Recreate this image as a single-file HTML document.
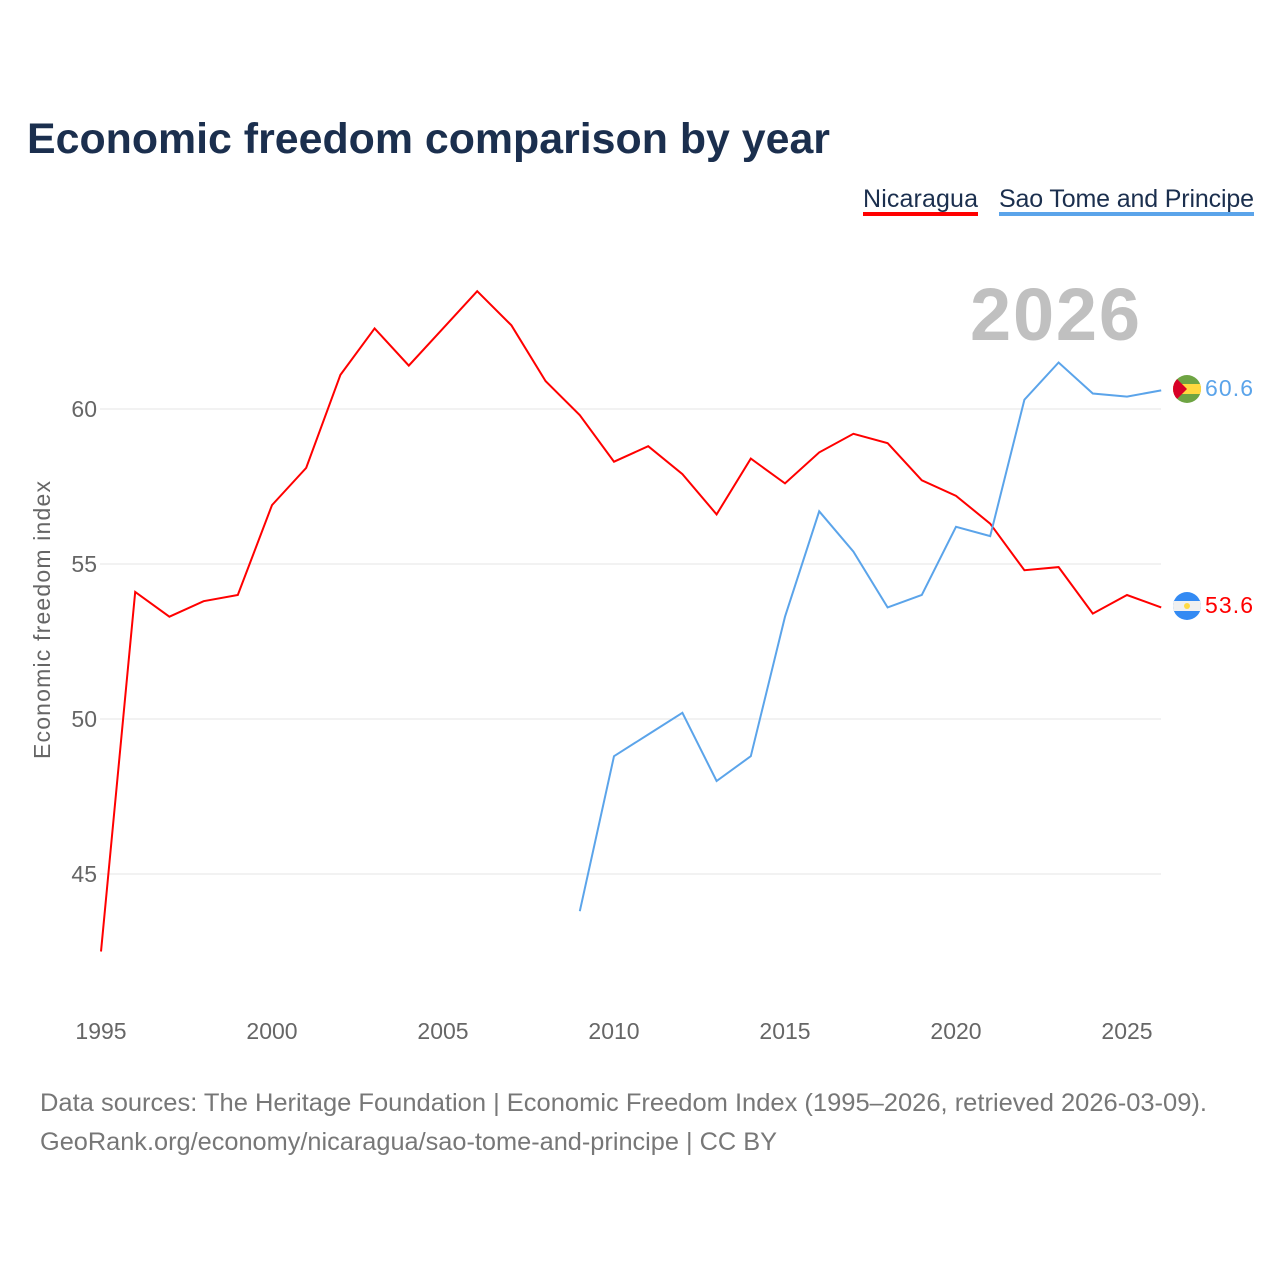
<!DOCTYPE html>
<html><head><meta charset="utf-8"><style>
body{margin:0;background:#fff;font-family:"Liberation Sans",sans-serif;}
</style></head><body>
<svg id="chart" width="1280" height="1280" xmlns="http://www.w3.org/2000/svg">
<text x="27" y="153" font-size="43" font-weight="bold" fill="#1b2f4e" textLength="803" lengthAdjust="spacingAndGlyphs">Economic freedom comparison by year</text>
<g><text x="863" y="207" font-size="25" fill="#1b2f4e" textLength="115">Nicaragua</text><rect x="863" y="212" width="115" height="4" fill="#ff0000"/></g>
<g><text x="999" y="207" font-size="25" fill="#1b2f4e" textLength="255">Sao Tome and Principe</text><rect x="999" y="212" width="255" height="4" fill="#5ba4ea"/></g>
<text x="1140" y="340" text-anchor="end" font-size="74" font-weight="bold" fill="#c0c0c0" textLength="170">2026</text>
<text transform="translate(50,620) rotate(-90)" text-anchor="middle" font-size="23" fill="#666" textLength="278">Economic freedom index</text>
<g id="grid"></g><g id="lines"></g>
<g>
<clipPath id="c1"><circle cx="1187" cy="389" r="14"/></clipPath>
<g clip-path="url(#c1)"><rect x="1173" y="375" width="28" height="28" fill="#6ea443"/><rect x="1173" y="384" width="28" height="10" fill="#ffd83f"/><polygon points="1173,375 1187,389 1173,403" fill="#d80027"/></g></g>
<g>
<clipPath id="c2"><circle cx="1187" cy="606" r="14"/></clipPath>
<g clip-path="url(#c2)"><rect x="1173" y="592" width="28" height="28" fill="#338af3"/><rect x="1173" y="601" width="28" height="10" fill="#f0f0f0"/><circle cx="1187" cy="606" r="3" fill="#ffda44"/></g></g>
<text x="1205" y="396" font-size="23" fill="#5ba4ea" textLength="48">60.6</text>
<text x="1205" y="613" font-size="23" fill="#ff0000" textLength="48">53.6</text>
<text x="40" y="1111" font-size="25" fill="#777" textLength="1167" lengthAdjust="spacingAndGlyphs">Data sources: The Heritage Foundation | Economic Freedom Index (1995–2026, retrieved 2026-03-09).</text>
<text x="40" y="1150" font-size="25" fill="#777" textLength="737" lengthAdjust="spacingAndGlyphs">GeoRank.org/economy/nicaragua/sao-tome-and-principe | CC BY</text>
</svg>
<script>
const years=[1995,1996,1997,1998,1999,2000,2001,2002,2003,2004,2005,2006,2007,2008,2009,2010,2011,2012,2013,2014,2015,2016,2017,2018,2019,2020,2021,2022,2023,2024,2025,2026];
const nicaragua=[42.5,54.1,53.3,53.8,54.0,56.9,58.1,61.1,62.6,61.4,62.6,63.8,62.7,60.9,59.8,58.3,58.8,57.9,56.6,58.4,57.6,58.6,59.2,58.9,57.7,57.2,56.3,54.8,54.9,53.4,54.0,53.6];
const stpYears=[2009,2010,2011,2012,2013,2014,2015,2016,2017,2018,2019,2020,2021,2022,2023,2024,2025,2026];
const saoTome=[43.8,48.8,49.5,50.2,48.0,48.8,53.3,56.7,55.4,53.6,54.0,56.2,55.9,60.3,61.5,60.5,60.4,60.6];
const yTicks=[45,50,55,60];
const xTicks=[1995,2000,2005,2010,2015,2020,2025];
const NS="http://www.w3.org/2000/svg";
const x=v=>101+(v-1995)*34.2;
const y=v=>409-(v-60)*31;
const grid=document.getElementById('grid'),lines=document.getElementById('lines');
yTicks.forEach(t=>{
 const l=document.createElementNS(NS,'line');
 
 
 l.setAttribute('x1',100);l.setAttribute('x2',1161);l.setAttribute('y1',y(t));l.setAttribute('y2',y(t));
 l.setAttribute('stroke','#e6e6e6');l.setAttribute('stroke-width',1);grid.appendChild(l);
 const tx=document.createElementNS(NS,'text');
 
 
 tx.setAttribute('x',97);tx.setAttribute('y',y(t)+8);tx.setAttribute('text-anchor','end');
 tx.setAttribute('font-size','23');tx.setAttribute('fill','#666');tx.textContent=t;grid.appendChild(tx);
});
xTicks.forEach(t=>{
 const tx=document.createElementNS(NS,'text');
 
 
 tx.setAttribute('x',x(t));tx.setAttribute('y',1039);tx.setAttribute('text-anchor','middle');
 tx.setAttribute('font-size','23');tx.setAttribute('fill','#666');tx.textContent=t;grid.appendChild(tx);
});
function line(xs,vs,color,name){
 const p=document.createElementNS(NS,'polyline');
 
 
 p.setAttribute('points',xs.map((yr,i)=>x(yr)+','+y(vs[i])).join(' '));
 p.setAttribute('fill','none');p.setAttribute('stroke',color);p.setAttribute('stroke-width',2);
 lines.appendChild(p);
}
line(years,nicaragua,'#ff0000','line-nicaragua');
line(stpYears,saoTome,'#5ba4ea','line-sao-tome');
</script>
</body></html>
